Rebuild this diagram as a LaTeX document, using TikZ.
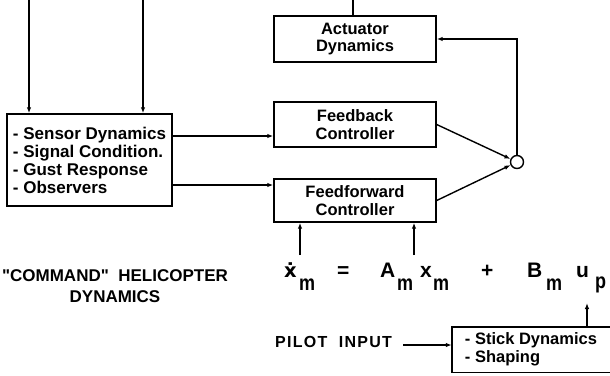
\documentclass[tikz,border=0pt]{standalone}
\usepackage{fontspec}
\usepackage{graphicx}
\setmainfont{Liberation Sans}
\newfontfamily\plainsans{Liberation Sans}
\newfontfamily\dvsans{DejaVu Sans}
\usetikzlibrary{arrows.meta}
\begin{document}
\begin{tikzpicture}[x=1pt,y=1pt,
  blk/.style={draw, line width=1.4pt, rectangle, inner sep=0pt,
    font=\bfseries\fontsize{16.5}{17.5}\selectfont, align=center},
  lst/.style={rectangle, inner sep=0pt,
    font=\bfseries\fontsize{16.5}{18}\selectfont, align=left},
  arr/.style={line width=1.4pt, -{Latex[length=6pt,width=4.5pt]}},
  ln/.style={line width=1.4pt},
  eqt/.style={font=\bfseries\fontsize{21}{22}\selectfont, inner sep=0pt, anchor=base west},
  sbt/.style={font=\bfseries\fontsize{18}{18}\selectfont, inner sep=0pt, anchor=base west},
  lbl/.style={font=\plainsans\bfseries\fontsize{17}{21}\selectfont, inner sep=0pt, align=center}]
\useasboundingbox (0,0) rectangle (610,-375);

% blocks
\node[blk, align=left, minimum width=165pt, minimum height=92pt,
  font=\bfseries\fontsize{17}{18}\selectfont] (sens) at (89.5,-160)
  {- Sensor Dynamics\\- Signal Condition.\\- Gust Response\\- Observers};
\node[blk, minimum width=162pt, minimum height=46pt] (act) at (355,-39) {Actuator\\Dynamics};
\node[blk, minimum width=162pt, minimum height=45pt] (fb) at (355,-124.5) {Feedback\\Controller};
\node[blk, minimum width=162pt, minimum height=43pt] (ff) at (355,-200.5) {Feedforward\\Controller};
\node[draw, circle, line width=1.4pt, minimum size=13pt, inner sep=0pt] (sum) at (517,-162) {};
\node[lst, minimum width=158pt, minimum height=45pt] (stk) at (531,-349.5)
  {- Stick Dynamics\\- Shaping};
\draw[ln] (stk.north east) -- (stk.north west) -- (stk.south west) -- (stk.south east);

% labels
\node[lbl] (cmd) at (115,-286) {"COMMAND"\ \ HELICOPTER\\DYNAMICS};
\node[inner sep=0pt, anchor=base west,
  font=\bfseries\fontsize{16}{18}\selectfont\addfontfeature{LetterSpace=8}] (pil) at (275,-347) {PILOT \ INPUT};

% equation
\node[eqt, font=\dvsans\bfseries\fontsize{19.5}{22}\selectfont] (xd) at (284,-277) {ẋ};
\node[sbt] (xdm) at (299,-290) {\scalebox{1}[1.2]{m}};
\node[eqt] (eqs) at (337,-277) {=};
\node[eqt] (A) at (380,-277) {A};
\node[sbt] (Am) at (397,-290) {\scalebox{1}[1.2]{m}};
\node[eqt] (x) at (420,-277) {x};
\node[sbt] (xm) at (433,-290) {\scalebox{1}[1.2]{m}};
\node[eqt] (plus) at (481,-277) {+};
\node[eqt] (B) at (527,-277) {B};
\node[sbt] (Bm) at (546,-290) {\scalebox{1}[1.2]{m}};
\node[eqt] (u) at (576,-277) {u};
\node[sbt] (up) at (595,-288) {\scalebox{1}[1.2]{p}};

% free ends
\coordinate (t1) at (29,0);
\coordinate (t2) at (143,0);
\coordinate (t3) at (353,0);
\coordinate (fa1) at (300,-255);
\coordinate (fa2) at (414,-255);
\coordinate (upt) at (587,-303);
\coordinate (ps) at (403,-345);

% connectors
\draw[arr] (t1) -- (t1 |- sens.north);
\draw[arr] (t2) -- (t2 |- sens.north);
\draw[ln] (t3 |- act.north) -- (t3);
\draw[arr] (sens.east |- 0,-136) -- (fb.west |- 0,-136);
\draw[arr] (sens.east |- 0,-185) -- (ff.west |- 0,-185);
\draw[arr] (fb.east) -- (sum);
\draw[arr] (ff.east) -- (sum);
\draw[arr] (sum.north) |- (act.east);
\draw[arr] (fa1) -- (fa1 |- ff.south);
\draw[arr] (fa2) -- (fa2 |- ff.south);
\draw[arr] (stk.north -| upt) -- (upt);
\draw[arr] (ps) -- (ps -| stk.west);
\end{tikzpicture}
\end{document}
